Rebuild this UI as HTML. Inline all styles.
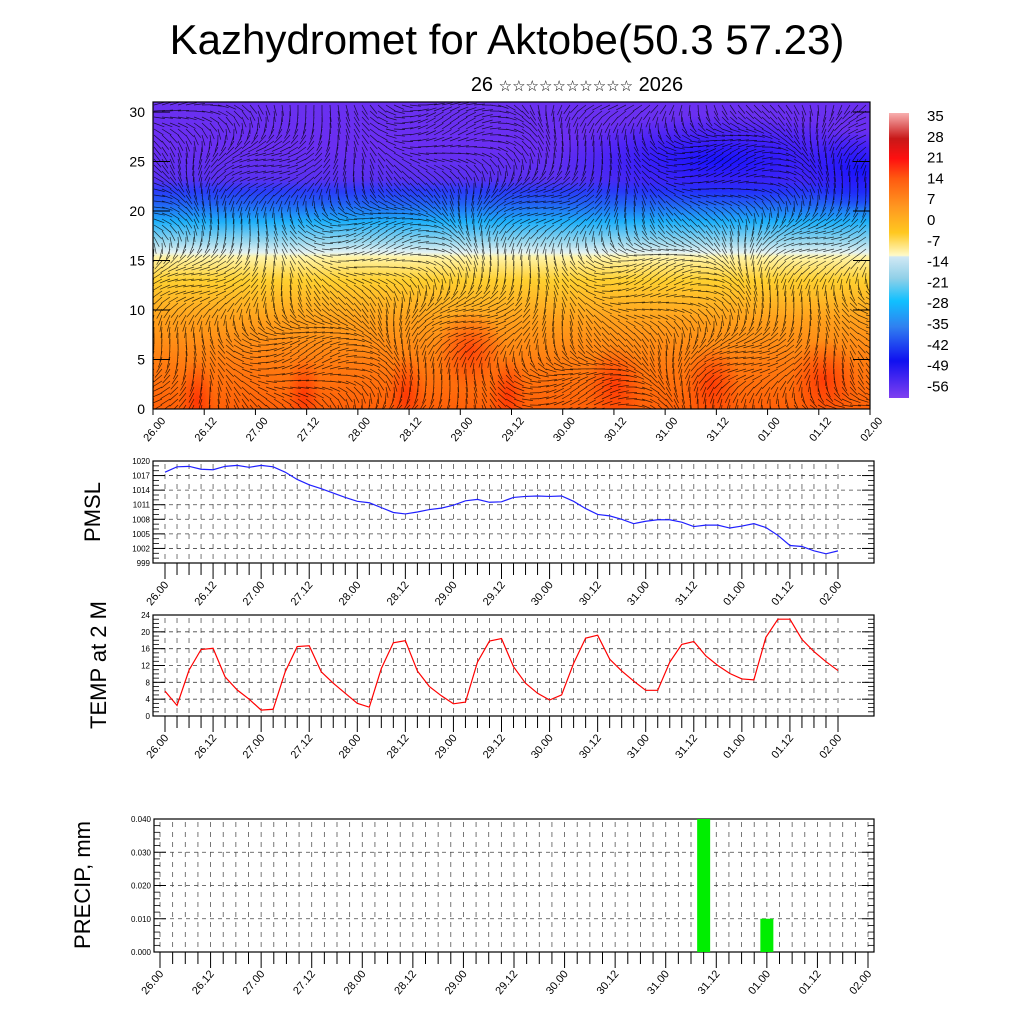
<!DOCTYPE html>
<html><head><meta charset="utf-8"><style>
body{margin:0;background:#fff;}
svg text{font-family:"Liberation Sans",sans-serif;}
</style></head><body>
<svg id="svg" width="1024" height="1024" viewBox="0 0 1024 1024" xmlns="http://www.w3.org/2000/svg">
<defs>
<linearGradient id="vg" x1="0" y1="0" x2="0" y2="1">
<stop offset="0" stop-color="#6a30f0"/><stop offset="0.15" stop-color="#6a2ef2"/>
<stop offset="0.25" stop-color="#5a30f0"/><stop offset="0.29" stop-color="#2a3cf8"/>
<stop offset="0.33" stop-color="#2260f4"/><stop offset="0.39" stop-color="#1eb0fa"/>
<stop offset="0.45" stop-color="#90d4ee"/><stop offset="0.49" stop-color="#e4f2f2"/>
<stop offset="0.505" stop-color="#fff4a8"/><stop offset="0.58" stop-color="#ffd030"/>
<stop offset="0.71" stop-color="#ffa01c"/><stop offset="0.86" stop-color="#ff7a10"/>
<stop offset="1" stop-color="#ff6008"/></linearGradient>
<radialGradient id="blueblob"><stop offset="0" stop-color="#1010ff" stop-opacity="0.9"/><stop offset="1" stop-color="#1010ff" stop-opacity="0"/></radialGradient>
<radialGradient id="redblob"><stop offset="0" stop-color="#ff1800" stop-opacity="0.6"/><stop offset="1" stop-color="#ff2000" stop-opacity="0"/></radialGradient>
<linearGradient id="cbg" x1="0" y1="0" x2="0" y2="1">
<stop offset="0" stop-color="#f8b0b0"/><stop offset="0.09" stop-color="#c81818"/><stop offset="0.16" stop-color="#ff1010"/>
<stop offset="0.23" stop-color="#ff5a10"/><stop offset="0.33" stop-color="#ff9820"/><stop offset="0.42" stop-color="#ffc820"/>
<stop offset="0.5" stop-color="#fffac8"/><stop offset="0.505" stop-color="#d0e8f4"/><stop offset="0.58" stop-color="#90d0e8"/>
<stop offset="0.66" stop-color="#10c0ff"/><stop offset="0.75" stop-color="#3080f0"/><stop offset="0.87" stop-color="#1010f0"/>
<stop offset="1" stop-color="#8040f0"/></linearGradient>
<clipPath id="topclip"><rect x="153" y="102" width="717" height="307"/></clipPath>
</defs>
<text x="507" y="54" font-size="42" text-anchor="middle">Kazhydromet for Aktobe(50.3 57.23)</text>
<text x="577" y="91" font-size="20" text-anchor="middle">26 <tspan font-size="15">☆☆☆☆☆☆☆☆☆☆</tspan> 2026</text>
<g id="top"></g>
<g id="pmsl"></g>
<g id="temp"></g>
<g id="precip"></g>
<text transform="translate(100,512) rotate(-90)" font-size="22" text-anchor="middle">PMSL</text>
<text transform="translate(106,665) rotate(-90)" font-size="22" text-anchor="middle">TEMP at 2 M</text>
<text transform="translate(90,885) rotate(-90)" font-size="22" text-anchor="middle">PRECIP, mm</text>
</svg>
<script>
const xLabels=["26.00","26.12","27.00","27.12","28.00","28.12","29.00","29.12","30.00","30.12","31.00","31.12","01.00","01.12","02.00"];
const pmslValues=[1017.7,1018.8,1018.9,1018.3,1018.2,1018.9,1019.1,1018.7,1019.1,1018.8,1017.7,1016.2,1015.1,1014.3,1013.4,1012.5,1011.7,1011.4,1010.4,1009.4,1009.1,1009.5,1010.0,1010.3,1010.9,1011.8,1012.1,1011.5,1011.6,1012.5,1012.7,1012.8,1012.7,1012.8,1011.7,1010.2,1009.0,1008.7,1008.0,1007.1,1007.6,1007.9,1007.9,1007.4,1006.5,1006.8,1006.8,1006.2,1006.6,1007.1,1006.3,1004.7,1002.6,1002.4,1001.5,1000.9,1001.5];
const pmslTicks=[999,1002,1005,1008,1011,1014,1017,1020];
const tempValues=[5.9,2.5,10.9,15.8,16.1,9.3,6.2,4.0,1.4,1.6,10.5,16.5,16.7,10.5,7.8,5.4,3.0,2.1,11.3,17.4,17.9,10.7,7.0,4.8,2.9,3.3,12.8,17.8,18.4,11.7,7.8,5.4,3.8,5.0,12.5,18.5,19.2,13.5,10.7,8.3,6.1,6.1,12.8,17.0,17.7,14.3,12.0,10.1,8.8,8.6,18.7,23.0,23.0,18.2,15.3,12.9,10.8];
const tempTicks=[0,4,8,12,16,20,24];
const precipValues=[0,0,0,0,0,0,0,0,0,0,0,0,0,0,0,0,0,0,0,0,0,0,0,0,0,0,0,0,0,0,0,0,0,0,0,0,0,0,0,0,0,0,0,0.04,0,0,0,0,0.01,0,0,0,0,0,0,0,0];
const precipTicks=["0.000","0.010","0.020","0.030","0.040"];
const heightTicks=[0,5,10,15,20,25,30];
const cbLabels=["35","28","21","14","7","0","-7","-14","-21","-28","-35","-42","-49","-56"];
const NS="http://www.w3.org/2000/svg";
function mk(p,t,a){const e=document.createElementNS(NS,t);for(const k in a)e.setAttribute(k,a[k]);p.appendChild(e);return e;}

function panel(g,box,x0,x1,ymin,ymax,yt,ytl,minorN){
  const X=i=>x0+(x1-x0)*i/56;
  const Y=v=>box.b-(box.b-box.t)*(v-ymin)/(ymax-ymin);
  for(let i=0;i<=56;i++){
    const l=mk(g,'line',{x1:X(i),x2:X(i),y1:box.t+3,y2:box.b-2,stroke:'#555','stroke-width':0.8,'stroke-dasharray':'5,5'});
    
    
    const tk=mk(g,'line',{x1:X(i),x2:X(i),y1:box.b,y2:box.b+(i%4==0?16:12),stroke:'#000','stroke-width':1});
    
    
  }
  yt.forEach((v,j)=>{
    const y=Y(v);
    if(j>0&&j<yt.length-1){const h=mk(g,'line',{x1:box.l,x2:box.r,y1:y,y2:y,stroke:'#444','stroke-width':0.8,'stroke-dasharray':'4,4'});
    
    }
    mk(g,'line',{x1:box.l,x2:box.l+12,y1:y,y2:y,stroke:'#000','stroke-width':1});
    mk(g,'line',{x1:box.r-12,x2:box.r,y1:y,y2:y,stroke:'#000','stroke-width':1});
    const t=mk(g,'text',{x:box.l-3,y:y+3,'font-size':8,'text-anchor':'end'});t.textContent=ytl[j];
    
    
    if(j<yt.length-1)for(let m=1;m<minorN;m++){const ym=Y(v+(yt[1]-yt[0])*m/minorN);
      mk(g,'line',{x1:box.l,x2:box.l+6,y1:ym,y2:ym,stroke:'#000','stroke-width':0.8});
      mk(g,'line',{x1:box.r-6,x2:box.r,y1:ym,y2:ym,stroke:'#000','stroke-width':0.8});}
  });
  mk(g,'rect',{x:box.l,y:box.t,width:box.r-box.l,height:box.b-box.t,fill:'none',stroke:'#000','stroke-width':1.2});
  xLabels.forEach((s,k)=>{const x=X(k*4);
    const t=mk(g,'text',{transform:`translate(${x+4},${box.b+22}) rotate(-50)`,'font-size':11,'text-anchor':'end'});t.textContent=s;
    
    });
  return {X,Y};
}
{const g=document.getElementById('pmsl');const box={l:153,r:874,t:461,b:563};
 const {X,Y}=panel(g,box,165,838,999,1020,pmslTicks,pmslTicks.map(String),3);
 const p=mk(g,'polyline',{points:pmslValues.map((v,i)=>X(i)+','+Y(v)).join(' '),fill:'none',stroke:'#2020ff','stroke-width':1.2});
 
 }
{const g=document.getElementById('temp');const box={l:153,r:874,t:615,b:716};
 const {X,Y}=panel(g,box,165,838,0,24,tempTicks,tempTicks.map(String),4);
 const p=mk(g,'polyline',{points:tempValues.map((v,i)=>X(i)+','+Y(v)).join(' '),fill:'none',stroke:'#ff0000','stroke-width':1.2});
 
 }
{const g=document.getElementById('precip');const box={l:154,r:874,t:819,b:952};
 const tv=precipTicks.map(Number);
 const {X,Y}=panel(g,box,160,868,0,0.04,tv,precipTicks,5);
 precipValues.forEach((v,i)=>{if(v>0){const r=mk(g,'rect',{x:X(i)-6.5,y:Y(v),width:13,height:Y(0)-Y(v),fill:'#00ee00'});
   
   }});}
{const g=document.getElementById('top');
 const c=mk(g,'g',{'clip-path':'url(#topclip)'});
 mk(c,'rect',{x:153,y:102,width:717,height:307,fill:'url(#vg)'});
 mk(c,'ellipse',{cx:720,cy:160,rx:170,ry:45,fill:'url(#blueblob)'});
 mk(c,'ellipse',{cx:860,cy:170,rx:60,ry:40,fill:'url(#blueblob)'});
 [[197,400,18],[304,395,18],[406,395,20],[508,395,20],[615,385,30],[712,385,28],[824,380,35],[470,350,35]].forEach(b=>{
   mk(c,'ellipse',{cx:b[0],cy:b[1],rx:b[2],ry:40,fill:'url(#redblob)'});});
 let d='';
 for(let y=105;y<412;y+=6){for(let x=154;x<872;x+=8){
   const a=Math.sin(x*0.021+y*0.013)*1.1+Math.cos(y*0.05-x*0.007)*0.7+1.2;
   const L=11;d+=`M${x.toFixed(1)},${y} l${(L*Math.cos(a)).toFixed(1)},${(L*Math.sin(a)).toFixed(1)} `;}}
 const w=mk(c,'path',{d:d,stroke:'#000','stroke-width':0.7,'stroke-opacity':0.75,fill:'none'});
 
 
 mk(g,'rect',{x:153,y:102,width:717,height:307,fill:'none',stroke:'#000','stroke-width':1.2});
 const Y=v=>409-(409-112)*v/30;
 heightTicks.forEach(v=>{mk(g,'line',{x1:153,x2:170,y1:Y(v),y2:Y(v),stroke:'#000'});mk(g,'line',{x1:853,x2:870,y1:Y(v),y2:Y(v),stroke:'#000'});
   const t=mk(g,'text',{x:145,y:Y(v)+5,'font-size':14,'text-anchor':'end'});t.textContent=v;
   
   });
 xLabels.forEach((s,k)=>{const x=153+717*k/14;
   mk(g,'line',{x1:x,x2:x,y1:409,y2:415,stroke:'#000'});
   const t=mk(g,'text',{transform:`translate(${x+13},${421}) rotate(-50)`,'font-size':11,'text-anchor':'end'});t.textContent=s;
   
   });
 const cb=mk(g,'rect',{x:889,y:113,width:20,height:285,fill:'url(#cbg)'});
 
 
 cbLabels.forEach((s,k)=>{const t=mk(g,'text',{x:927,y:121+k*20.8,'font-size':15});t.textContent=s;
   
   });
}
</script>
</body></html>
